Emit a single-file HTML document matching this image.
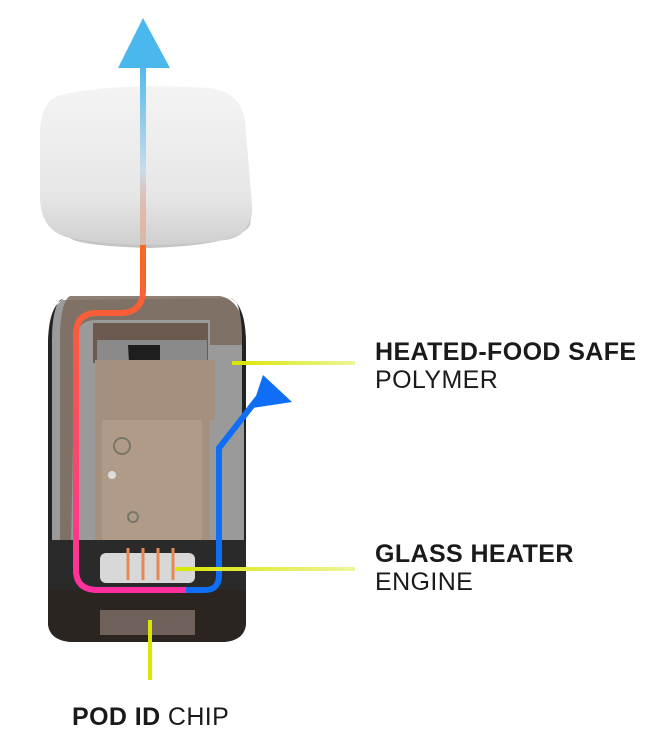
<!DOCTYPE html>
<html><head><meta charset="utf-8"><style>
html,body{margin:0;padding:0;background:#fff;width:646px;height:732px;overflow:hidden}
.t{position:absolute;font-family:"Liberation Sans",sans-serif;font-size:25px;color:#1a1a1a;line-height:28px;letter-spacing:0.4px}
b{font-weight:700}
</style></head><body>
<svg width="646" height="732" style="position:absolute;left:0;top:0">
<defs>
<linearGradient id="cap" x1="0" y1="0" x2="0" y2="1"><stop offset="0" stop-color="#f4f4f4"/><stop offset="0.7" stop-color="#e6e6e6"/><stop offset="1" stop-color="#cfcfcf"/></linearGradient>
<linearGradient id="up" x1="0" y1="1" x2="0" y2="0"><stop offset="0" stop-color="#f36a2a" stop-opacity="0.2"/><stop offset="0.4" stop-color="#c9dcec"/><stop offset="1" stop-color="#4ab8ec"/></linearGradient>
<linearGradient id="pk" x1="0" y1="0" x2="0" y2="1"><stop offset="0" stop-color="#f86a1e"/><stop offset="1" stop-color="#ff2fa0"/></linearGradient>
<linearGradient id="ld" x1="0" y1="0" x2="1" y2="0"><stop offset="0" stop-color="#d8e600"/><stop offset="1" stop-color="#eef59a"/></linearGradient>
</defs>
<path d="M60 95 Q120 82 210 88 Q240 92 245 120 L252 205 Q254 235 225 240 Q140 250 70 238 Q42 232 40 200 L40 130 Q42 100 60 95Z" fill="url(#cap)"/>
<path d="M70 238 Q140 250 225 240 Q250 236 252 210 L250 225 Q240 245 150 248 Q80 246 70 238Z" fill="#c4c4c4"/>
<rect x="140" y="60" width="6" height="185" fill="url(#up)"/>
<polygon points="143,18 118,68 170,68" fill="#4ab8ec"/>
<path d="M62 300 Q50 310 48 340 L48 620 L246 620 L246 340 Q244 305 225 298 Z" fill="#9a9a9a"/>
<path d="M70 296 L220 296 Q242 300 244 335 L244 345 L210 345 L210 320 L95 320 Q78 320 75 340 L70 600 L60 600 L60 330 Q62 300 70 296Z" fill="#7b6a5e" opacity="0.85"/>
<path d="M48 345 Q48 305 65 298 L60 300 Q52 310 52 340 L52 590 L48 590Z" fill="#222"/>
<path d="M246 345 Q246 305 230 298 L236 302 Q242 312 242 340 L242 590 L246 590Z" fill="#222"/>
<rect x="93" y="323" width="115" height="40" fill="#6b5a4f"/>
<rect x="97" y="340" width="110" height="20" fill="#8a8a8a"/>
<path d="M128 345 L160 345 L160 380 Q145 395 130 380Z" fill="#1e1e1e"/>
<rect x="95" y="360" width="120" height="190" fill="#a5907f"/>
<rect x="102" y="420" width="100" height="130" fill="#b09b88"/>
<circle cx="122" cy="446" r="8" fill="none" stroke="#776" stroke-width="2"/>
<circle cx="112" cy="475" r="4" fill="#ddd"/>
<circle cx="133" cy="517" r="5" fill="none" stroke="#776" stroke-width="2"/>
<rect x="210" y="420" width="34" height="130" fill="#9a9a9a"/>
<rect x="48" y="540" width="198" height="55" fill="#2a2a2a"/>
<rect x="100" y="553" width="95" height="30" rx="6" fill="#d8d8d8"/>
<path d="M48 590 L246 590 L246 625 Q244 640 225 642 L70 642 Q50 640 48 625Z" fill="#2b2522"/>
<rect x="100" y="610" width="95" height="25" fill="#6f615a"/>
<g stroke="#e48855" stroke-width="3" fill="none"><path d="M128 548 V580"/><path d="M143 548 V580"/><path d="M158 548 V580"/><path d="M173 548 V580"/></g>
<path d="M143 245 V290 Q143 313 120 313 L97 313 Q76 313 76 335 V570 Q76 590 98 590 L188 590" fill="none" stroke="url(#pk)" stroke-width="6"/>
<path d="M186 590 L205 590 Q219 590 219 575 V448 L258 398" fill="none" stroke="#0f6ef5" stroke-width="6"/>
<polygon points="263,375 292,402 252,408" fill="#0f6ef5"/>
<rect x="232" y="361" width="123" height="4" fill="url(#ld)"/>
<rect x="175" y="567" width="180" height="4" fill="url(#ld)"/>
<rect x="148" y="620" width="4" height="60" fill="#d8e600"/>
</svg>
<div class="t" style="left:375px;top:338px"><b>HEATED-FOOD SAFE</b><br>POLYMER</div>
<div class="t" style="left:375px;top:540px"><b>GLASS HEATER</b><br>ENGINE</div>
<div class="t" style="left:72px;top:703px"><b>POD ID</b> CHIP</div>
</body></html>
